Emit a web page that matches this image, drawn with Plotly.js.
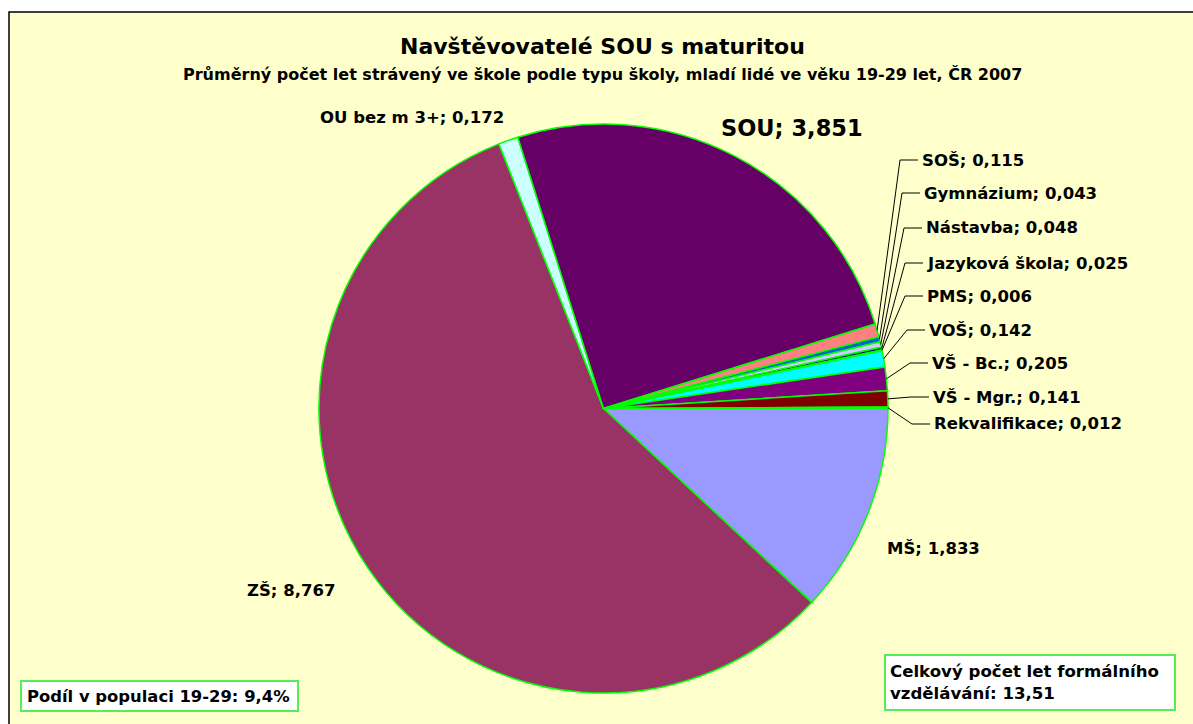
<!DOCTYPE html>
<html>
<head>
<meta charset="utf-8">
<script src="https://cdn.plot.ly/plotly-3.0.1.min.js"></script>
<style>html,body{margin:0;padding:0;background:#fff;}#chart{width:1193px;height:724px;}</style>
</head>
<body>
<div id="chart"></div>
<script>
// ---- data ----
const categories = ["MŠ","ZŠ","OU bez m 3+","SOU","SOŠ","Gymnázium","Nástavba","Jazyková škola","PMS","VOŠ","VŠ - Bc.","VŠ - Mgr.","Rekvalifikace"];
const values = [1.833, 8.767, 0.172, 3.851, 0.115, 0.043, 0.048, 0.025, 0.006, 0.142, 0.205, 0.141, 0.012];
const valueLabels = ["1,833","8,767","0,172","3,851","0,115","0,043","0,048","0,025","0,006","0,142","0,205","0,141","0,012"];
const colors = ["#9999FF","#993366","#CCFFFF","#660066","#FF8080","#0066CC","#CCCCFF","#000080","#FF00FF","#00FFFF","#800080","#800000","#008080"];
const titleText = "Navštěvovatelé SOU s maturitou";
const subtitleText = "Průměrný počet let strávený ve škole podle typu školy, mladí lidé ve věku 19-29 let, ČR 2007";
const boxLeftText = "Podíl v populaci 19-29: 9,4%";
const boxRightText = "Celkový počet let formálního<br>vzdělávání: 13,51";

// ---- layout geometry (pixels) ----
const W = 1193, H = 724;
const cx = 603.5, cy = 408.5, R = 284.5;
const FONT = "DejaVu Sans, Verdana, sans-serif";
// label anchor: left x and center y of each label text
const labelPos = [
  [885, 548], [245, 590], [318, 117], [719, 128], [920, 160], [922, 193], [924, 228],
  [925, 263], [925, 296], [927, 330], [930, 363], [931, 397], [932, 424]
];
const labelSize = [16.5,16.5,16.5,22.5,16.5,16.5,16.5,16.5,16.5,16.5,16.5,16.5,16.5];
const leader = [false,false,false,false,true,true,true,true,true,true,true,true,true];

const px = x => x / W;
const py = y => 1 - y / H;

const total = values.reduce((a,b)=>a+b,0);
const annotations = [];
const shapes = [];

// chart border / background
shapes.push({type:"rect", xref:"paper", yref:"paper", x0:px(9), x1:px(1200), y0:py(12), y1:py(740),
  fillcolor:"#FFFFCC", line:{color:"#000", width:1.5}, layer:"below"});

let cum = 0;
values.forEach((v,i)=>{
  const mid = 2*Math.PI*(cum + v/2)/total; // clockwise from 3 o'clock
  cum += v;
  const ex = cx + R*Math.cos(mid), ey = cy + R*Math.sin(mid);
  const [lx, ly] = labelPos[i];
  annotations.push({xref:"paper", yref:"paper", x:px(lx), y:py(ly), xanchor:"left", yanchor:"middle",
    text: "<b>" + categories[i] + "; " + valueLabels[i] + "</b>", showarrow:false,
    font:{family:FONT, size:labelSize[i], color:"#000"}});
  if (leader[i]) {
    const kx = lx - 20;
    shapes.push({type:"path", xref:"paper", yref:"paper",
      path:`M ${px(ex)} ${py(ey)} L ${px(kx)} ${py(ly)} L ${px(lx-2)} ${py(ly)}`,
      line:{color:"#000", width:1}});
  }
});

annotations.push({xref:"paper", yref:"paper", x:px(603), y:py(47), xanchor:"center", yanchor:"middle",
  text:"<b>"+titleText+"</b>", showarrow:false, font:{family:FONT, size:22, color:"#000"}});
annotations.push({xref:"paper", yref:"paper", x:px(603), y:py(74), xanchor:"center", yanchor:"middle",
  text:"<b>"+subtitleText+"</b>", showarrow:false, font:{family:FONT, size:16, color:"#000"}});

// text boxes
shapes.push({type:"rect", xref:"paper", yref:"paper", x0:px(21), x1:px(298), y0:py(681), y1:py(711),
  fillcolor:"#FFFFFF", line:{color:"#55EE55", width:2}});
annotations.push({xref:"paper", yref:"paper", x:px(25), y:py(696), xanchor:"left", yanchor:"middle",
  text:"<b>"+boxLeftText+"</b>", showarrow:false, font:{family:FONT, size:16.4, color:"#000"}});
shapes.push({type:"rect", xref:"paper", yref:"paper", x0:px(885), x1:px(1175), y0:py(655), y1:py(710),
  fillcolor:"#FFFFFF", line:{color:"#55EE55", width:2}});
annotations.push({xref:"paper", yref:"paper", x:px(888), y:py(682), xanchor:"left", yanchor:"middle", align:"left",
  text:"<b>"+boxRightText+"</b>", showarrow:false, font:{family:FONT, size:16.6, color:"#000"}});

const trace = {
  type:"pie", labels:categories, values:values, sort:false, direction:"clockwise", rotation:90,
  marker:{colors:colors, line:{color:"#00FF00", width:1.5}},
  textinfo:"none", hoverinfo:"label+value", showlegend:false,
  domain:{x:[px(cx-R), px(cx+R)], y:[py(cy+R), py(cy-R)]}
};

Plotly.newPlot("chart", [trace], {
  width:W, height:H, margin:{l:0,r:0,t:0,b:0},
  paper_bgcolor:"#FFFFFF", plot_bgcolor:"rgba(0,0,0,0)",
  shapes:shapes, annotations:annotations, showlegend:false
}, {displayModeBar:false, staticPlot:true});
</script>
</body>
</html>
